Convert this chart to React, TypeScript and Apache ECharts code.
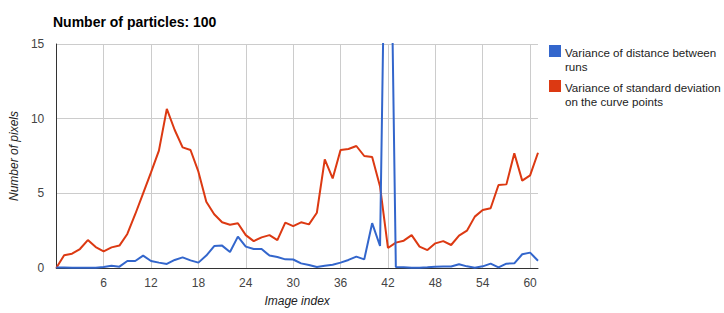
import React, { useEffect, useRef } from "react";
import * as echarts from "echarts";

const title = "Number of particles: 100";
const seriesNames = ["Variance of distance between runs", "Variance of standard deviation on the curve points"];
const legendLines = [["Variance of distance between", "runs"], ["Variance of standard deviation", "on the curve points"]];
const colors = ["#3366cc", "#dc3912"];
const xTickStep = 6;

const distanceVariance = [
  0.03, 0.04, 0.02, 0.01, 0.01, 0.02, 0.07, 0.15, 0.09, 0.47,
  0.47, 0.83, 0.47, 0.36, 0.27, 0.54, 0.71, 0.51, 0.36, 0.83,
  1.47, 1.5, 1.07, 2.1, 1.43, 1.27, 1.27, 0.83, 0.74, 0.58,
  0.57, 0.31, 0.2, 0.07, 0.15, 0.22, 0.36, 0.54, 0.76, 0.58,
  3.0, 1.47, 37, 0.07, 0.05, 0.02, 0.02, 0.05, 0.09, 0.1,
  0.1, 0.25, 0.11, 0.02, 0.11, 0.29, 0.04, 0.29, 0.31, 0.92,
  1.03, 0.49,
];

const stdDevVariance = [
  0, 0.85, 0.96, 1.27, 1.87, 1.4, 1.12, 1.38, 1.5, 2.28,
  3.6, 5.0, 6.4, 7.86, 10.65, 9.24, 8.08, 7.9, 6.45, 4.44,
  3.6, 3.06, 2.9, 3.0, 2.2, 1.8, 2.05, 2.2, 1.87, 3.04,
  2.8, 3.06, 2.92, 3.7, 7.28, 6.0, 7.9, 7.97, 8.17, 7.5,
  7.43, 5.45, 1.34, 1.7, 1.83, 2.2, 1.43, 1.2, 1.65, 1.8,
  1.54, 2.17, 2.5, 3.44, 3.88, 4.0, 5.56, 5.6, 7.68, 5.85,
  6.2, 7.72,
];

const FONT = "Arial, 'Liberation Sans', sans-serif";

export default function App() {
  const ref = useRef<HTMLDivElement>(null);
  useEffect(() => {
    document.body.style.margin = "0";
    if (!ref.current) return;
    const chart = echarts.init(ref.current, undefined, { renderer: "svg" });
    const toPairs = (arr: number[]) => arr.map((v, i) => [i, v]);
    const legendGraphics: any[] = [];
    legendLines.forEach((lines, k) => {
      const top = 45 + k * 35;
      legendGraphics.push({
        type: "rect",
        left: 549,
        top: top,
        shape: { width: 12, height: 12 },
        style: { fill: colors[k] },
      });
      legendGraphics.push({
        type: "text",
        left: 565,
        top: top,
        style: {
          text: lines.join("\n"),
          font: `11.6px ${FONT}`,
          fill: "#222222",
          lineHeight: 14,
        },
      });
    });
    chart.setOption({
      animation: false,
      title: {
        text: title,
        left: 48,
        top: 10,
        textStyle: { fontFamily: FONT, fontSize: 14, fontWeight: "bold", color: "#000" },
      },
      grid: { left: 53, right: 186, top: 44, bottom: 45 },
      xAxis: {
        type: "value",
        min: 0,
        max: 61,
        interval: xTickStep,
        name: "Image index",
        nameLocation: "middle",
        nameGap: 27,
        nameTextStyle: { fontFamily: FONT, fontSize: 12, fontStyle: "italic", color: "#222" },
        axisLine: { show: true, lineStyle: { color: "#333", width: 1 } },
        axisTick: { show: false },
        axisLabel: {
          fontFamily: FONT,
          fontSize: 12,
          color: "#444",
          margin: 9,
          formatter: (v: number) => (v === 0 || v % xTickStep !== 0 ? "" : String(v)),
        },
        splitLine: { show: true, showMinLine: false, showMaxLine: false, lineStyle: { color: "#cccccc" } },
      },
      yAxis: {
        type: "value",
        min: 0,
        max: 15,
        interval: 5,
        name: "Number of pixels",
        nameLocation: "middle",
        nameGap: 34,
        nameTextStyle: { fontFamily: FONT, fontSize: 12, fontStyle: "italic", color: "#222" },
        axisLine: { show: true, lineStyle: { color: "#333", width: 1 } },
        axisTick: { show: false },
        axisLabel: { fontFamily: FONT, fontSize: 12, color: "#444", margin: 12 },
        splitLine: { show: true, lineStyle: { color: "#cccccc" } },
      },
      series: [
        {
          name: seriesNames[0],
          type: "line",
          data: toPairs(distanceVariance),
          showSymbol: false,
          clip: true,
          lineStyle: { color: colors[0], width: 2 },
          itemStyle: { color: colors[0] },
          z: 3,
        },
        {
          name: seriesNames[1],
          type: "line",
          data: toPairs(stdDevVariance),
          showSymbol: false,
          clip: true,
          lineStyle: { color: colors[1], width: 2 },
          itemStyle: { color: colors[1] },
          z: 2,
        },
      ],
      graphic: legendGraphics,
    });
    return () => chart.dispose();
  }, []);
  return <div ref={ref} style={{ width: 724, height: 313 }} />;
}
